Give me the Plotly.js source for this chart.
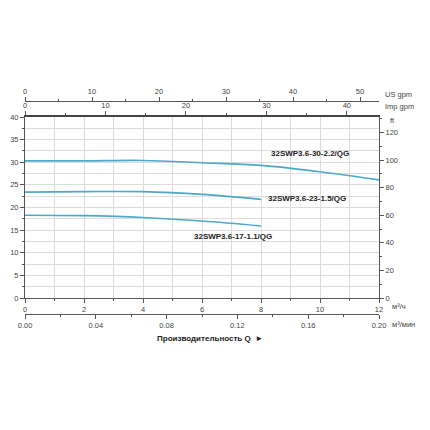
<!DOCTYPE html>
<html>
<head>
<meta charset="utf-8">
<script src="https://cdn.plot.ly/plotly-3.0.1.min.js"></script>
<style>html,body{margin:0;padding:0;background:#fff}#chart{width:430px;height:430px}</style>
</head>
<body>
<div id="chart"></div>
<script>
// Data (H in m vs Q in m³/h)
const q1 = [0, 2, 4, 6, 8, 10, 12];
const h1 = [30.3, 30.3, 30.4, 29.9, 29.3, 27.9, 26.1];
const q2 = [0, 2, 4, 6, 8];
const h2 = [23.4, 23.5, 23.5, 22.9, 21.8];
const q3 = [0, 2, 4, 6, 8];
const h3 = [18.3, 18.2, 17.8, 17.0, 15.9];
const names = ["32SWP3.6-30-2.2/QG", "32SWP3.6-23-1.5/QG", "32SWP3.6-17-1.1/QG"];
const labelPos = [[9.65, 32.0], [9.55, 22.0], [7.05, 13.6]];
const unitLabels = ["US gpm", "Imp gpm", "ft", "м³/ч", "м³/мин"];
const xTitle = "Производительность Q  ►";

const qMax = 12, hMax = 40;
const impPerM3h = 3.6662, usPerM3h = 4.4029, ftPerM = 3.28084;

const lineColor = "#4da8c9";
const axColor = "#555";
const gridColor = "#dcdcdc";
const tfont = {family: "Liberation Sans, Arial, sans-serif", size: 7.5, color: "#444"};
const xd = [25/430, 379/430];
const yd = [132/430, 313/430];

const traces = [[q1,h1],[q2,h2],[q3,h3]].map((d,i)=>({
  x: d[0], y: d[1], type: "scatter", mode: "lines", name: names[i],
  line: {color: lineColor, width: 1.6, shape: "spline"}, xaxis: "x", yaxis: "y", hoverinfo: "none"
}));
// dummy traces to activate overlay axes
traces.push({x:[0], y:[0], xaxis:"x2", yaxis:"y", mode:"markers", marker:{opacity:0}, hoverinfo:"none"});
traces.push({x:[0], y:[0], xaxis:"x3", yaxis:"y", mode:"markers", marker:{opacity:0}, hoverinfo:"none"});
traces.push({x:[0], y:[0], xaxis:"x4", yaxis:"y", mode:"markers", marker:{opacity:0}, hoverinfo:"none"});
traces.push({x:[0], y:[0], xaxis:"x", yaxis:"y2", mode:"markers", marker:{opacity:0}, hoverinfo:"none"});

const base = {showline:true, linecolor:axColor, linewidth:1, ticks:"outside", ticklen:4, tickcolor:axColor,
  tickwidth:1, tickfont:tfont, zeroline:false, fixedrange:true};

const layout = {
  width: 430, height: 430, margin: {l:0, r:0, t:0, b:0},
  paper_bgcolor: "#fff", plot_bgcolor: "#fff", showlegend: false,
  xaxis: Object.assign({}, base, {domain: xd, range:[0,qMax], dtick:2, tick0:0, showgrid:true, gridcolor:gridColor,
    gridwidth:1, anchor:"y", side:"bottom",
    minor:{dtick:1, showgrid:true, gridcolor:gridColor, ticks:"outside", ticklen:2, tickcolor:axColor}}),
  yaxis: Object.assign({}, base, {domain: yd, range:[0,hMax], dtick:5, tick0:0, showgrid:true, gridcolor:gridColor,
    anchor:"x", side:"left",
    minor:{dtick:2.5, showgrid:true, gridcolor:gridColor, ticks:"outside", ticklen:2, tickcolor:axColor}}),
  xaxis2: Object.assign({}, base, {domain: xd, overlaying:"x", anchor:"y", side:"top", range:[0,qMax*impPerM3h],
    dtick:10, tick0:0, showgrid:false, linewidth:1.6, linecolor:"#444",
    minor:{dtick:5, ticks:"outside", ticklen:2, tickcolor:axColor, showgrid:false}}),
  xaxis3: Object.assign({}, base, {domain: xd, overlaying:"x", anchor:"free", position:329/430, side:"top",
    range:[0,qMax*usPerM3h], dtick:10, tick0:0, showgrid:false,
    minor:{dtick:5, ticks:"outside", ticklen:2, tickcolor:axColor, showgrid:false}}),
  xaxis4: Object.assign({}, base, {domain: xd, overlaying:"x", anchor:"free", position:116/430, side:"bottom",
    range:[0,0.2], dtick:0.04, tick0:0, tickformat:".2f", showgrid:false,
    minor:{dtick:0.02, ticks:"outside", ticklen:2, tickcolor:axColor, showgrid:false}}),
  yaxis2: Object.assign({}, base, {domain: yd, overlaying:"y", anchor:"x", side:"right", range:[0,hMax*ftPerM],
    dtick:20, tick0:0, showgrid:false,
    minor:{dtick:10, ticks:"outside", ticklen:2, tickcolor:axColor, showgrid:false}}),
  annotations: []
};

const labFont = {family: "Liberation Sans, Arial, sans-serif", size: 8, color: "#222"};
names.forEach((n,i)=>{
  layout.annotations.push({text:"<b>"+n+"</b>", x:labelPos[i][0], y:labelPos[i][1], xref:"x", yref:"y",
    showarrow:false, font:labFont, xanchor:"center", yanchor:"middle"});
});
const unitPos = [[383,94],[383,107],[388,120],[390,306],[390,324]];
unitLabels.forEach((u,i)=>{
  layout.annotations.push({text:u, x:unitPos[i][0]/430, y:1-unitPos[i][1]/430, xref:"paper", yref:"paper",
    showarrow:false, xanchor:"left", yanchor:"middle", font:tfont});
});
layout.annotations.push({text:"<b>"+xTitle+"</b>", x:210/430, y:1-338/430, xref:"paper", yref:"paper",
  showarrow:false, xanchor:"center", yanchor:"middle", font:labFont});

Plotly.newPlot("chart", traces, layout, {staticPlot:true, displayModeBar:false});
</script>
</body>
</html>
